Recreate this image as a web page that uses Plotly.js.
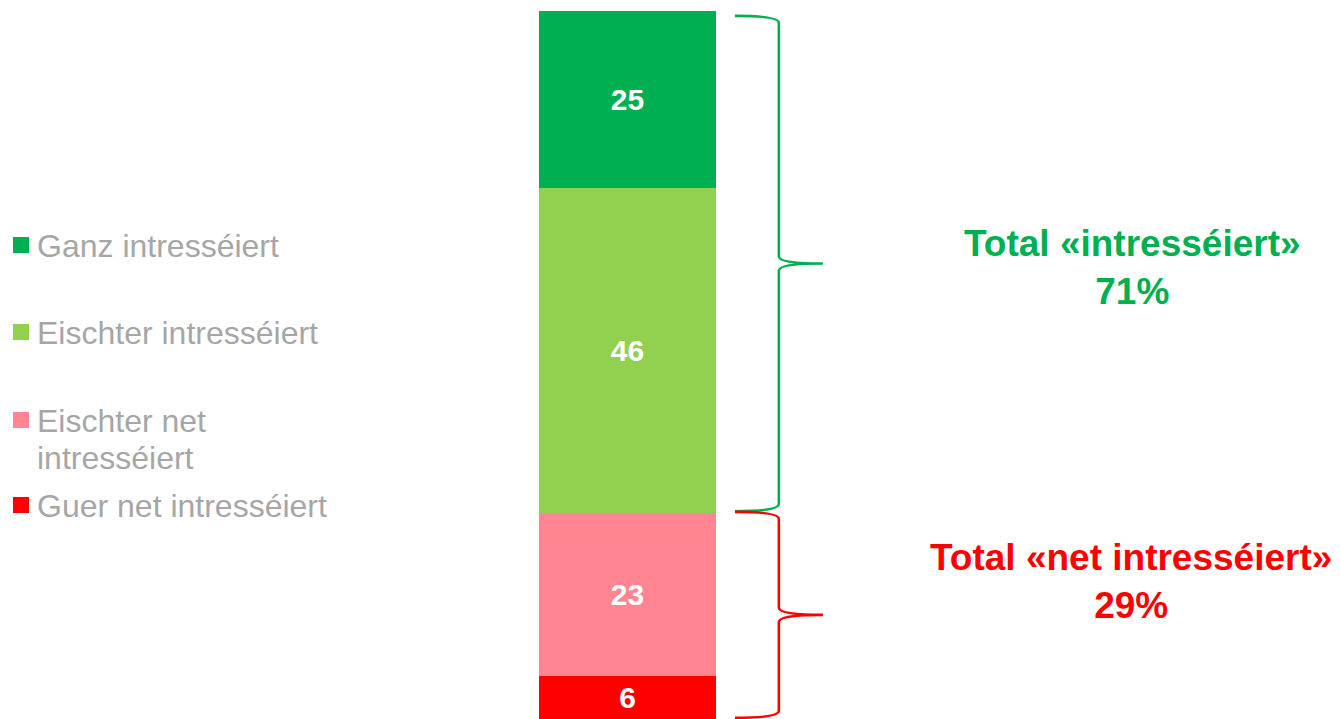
<!DOCTYPE html>
<html>
<head>
<meta charset="utf-8">
<script src="https://cdn.plot.ly/plotly-3.0.1.min.js"></script>
<style>
  html, body { margin: 0; padding: 0; background: #fff; }
  #chart { width: 1340px; height: 719px; }
</style>
</head>
<body>
<div id="chart"></div>
<script>
// answers, top of the bar first
const categories = ['Ganz intresséiert', 'Eischter intresséiert', 'Eischter net intresséiert', 'Guer net intresséiert'];
const legendLabels = [['Ganz intresséiert'], ['Eischter intresséiert'], ['Eischter net', 'intresséiert'], ['Guer net intresséiert']];
const values = [25, 46, 23, 6];
const totalLabels = ['Total «intresséiert»', 'Total «net intresséiert»'];

const colors = ['#00B050', '#92D050', '#FF8593', '#FF0000'];
const font = 'Liberation Sans, Arial, sans-serif';
const W = 1340, H = 719;

function createChart() {
  // stack from the bottom: last category first
  const traces = [];
  for (let i = categories.length - 1; i >= 0; i--) {
    traces.push({
      type: 'bar',
      name: categories[i],
      x: [0],
      y: [values[i]],
      width: [1],
      marker: { color: colors[i], line: { width: 0 } },
      text: ['<b>' + values[i] + '</b>'],
      textposition: 'inside',
      insidetextanchor: 'middle',
      textangle: 0,
      textfont: { family: font, size: 30, color: '#ffffff' },
      hoverinfo: 'name+y',
      showlegend: false
    });
  }

  const pos = values[0] + values[1];
  const neg = values[2] + values[3];

  // curly brace as an svg path in data units
  function brace(yTop, yBot) {
    const x0 = 0.607, xv = 0.855, xt = 1.104, r = 1.0;
    const yTip = (yTop + yBot) / 2;
    return 'M' + x0 + ',' + yTop +
      ' Q' + xv + ',' + yTop + ' ' + xv + ',' + (yTop - r) +
      ' L' + xv + ',' + (yTip + r) +
      ' Q' + xv + ',' + yTip + ' ' + xt + ',' + yTip +
      ' Q' + xv + ',' + yTip + ' ' + xv + ',' + (yTip - r) +
      ' L' + xv + ',' + (yBot + r) +
      ' Q' + xv + ',' + yBot + ' ' + x0 + ',' + yBot;
  }

  const shapes = [
    { type: 'path', xref: 'x', yref: 'y', path: brace(100 - 0.7, neg + 0.3), line: { color: colors[0], width: 2.6 } },
    { type: 'path', xref: 'x', yref: 'y', path: brace(neg + 0.2, 0.1), line: { color: colors[3], width: 2.6 } }
  ];

  const annotations = [];
  const legendY = [245, 332, 420, 505];
  legendLabels.forEach((lines, i) => {
    shapes.push({
      type: 'rect', xref: 'paper', yref: 'paper',
      x0: 13 / W, x1: 29 / W,
      y0: 1 - (legendY[i] + 8) / H, y1: 1 - (legendY[i] - 8) / H,
      fillcolor: colors[i], line: { width: 0 }
    });
    lines.forEach((t, j) => {
      annotations.push({
        xref: 'paper', yref: 'paper',
        x: 35 / W, y: 1 - (legendY[i] + 1 + j * 36.5) / H,
        xanchor: 'left', yanchor: 'middle',
        text: t, showarrow: false,
        font: { family: font, size: 32, color: '#A6A6A6' }
      });
    });
  });

  annotations.push({
    xref: 'paper', yref: 'paper', x: 1132 / W, y: 1 - 267.5 / H,
    xanchor: 'center', yanchor: 'middle', showarrow: false,
    text: '<b>' + totalLabels[0] + '<br>' + pos + '%</b>',
    font: { family: font, size: 37, color: colors[0] }
  });
  annotations.push({
    xref: 'paper', yref: 'paper', x: 1131 / W, y: 1 - 581.5 / H,
    xanchor: 'center', yanchor: 'middle', showarrow: false,
    text: '<b>' + totalLabels[1] + '<br>' + neg + '%</b>',
    font: { family: font, size: 37, color: colors[3] }
  });

  const layout = {
    width: W,
    height: H,
    margin: { t: 0, b: 0, l: 0, r: 0 },
    paper_bgcolor: '#ffffff',
    plot_bgcolor: '#ffffff',
    barmode: 'stack',
    xaxis: { range: [-3.545, 4.025], visible: false, fixedrange: true },
    yaxis: { range: [-0.07, 101.55], visible: false, fixedrange: true },
    shapes: shapes,
    annotations: annotations,
    showlegend: false
  };

  Plotly.newPlot('chart', traces, layout, { displayModeBar: false, staticPlot: true });
}

if (document.readyState === 'loading') {
  document.addEventListener('DOMContentLoaded', createChart);
} else {
  createChart();
}
</script>
</body>
</html>
